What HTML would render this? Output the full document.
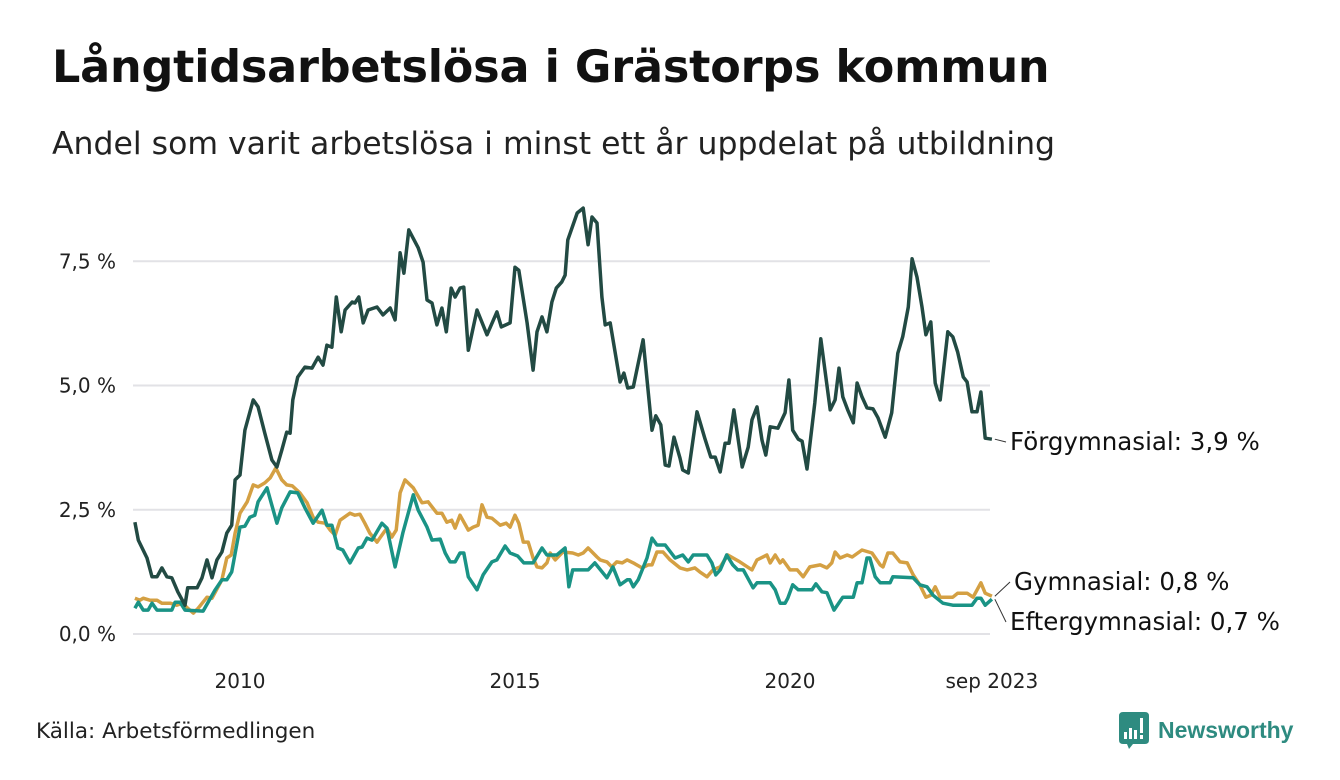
<!DOCTYPE html>
<html><head><meta charset="utf-8">
<style>
html,body{margin:0;padding:0;background:#fff;}
body{width:1340px;height:780px;overflow:hidden;position:relative;font-family:"DejaVu Sans","Liberation Sans",sans-serif;color:#111;}
#title{position:absolute;left:52px;top:42px;font-size:44.5px;font-weight:bold;margin:0;letter-spacing:-0.2px;}
#subtitle{position:absolute;left:52px;top:126px;font-size:31.5px;margin:0;color:#222;}
#source{position:absolute;left:36px;top:719px;font-size:21.5px;color:#222;}
#logo{position:absolute;left:1119px;top:712px;}
svg text{font-family:"DejaVu Sans","Liberation Sans",sans-serif;}
</style></head>
<body>
<h1 id="title">Långtidsarbetslösa i Grästorps kommun</h1>
<p id="subtitle">Andel som varit arbetslösa i minst ett år uppdelat på utbildning</p>
<svg id="chart" width="1340" height="780" style="position:absolute;left:0;top:0;"></svg>
<div id="source">Källa: Arbetsförmedlingen</div>
<div id="logo">
<svg width="190" height="40">
<path d="M0 4 Q0 0 4 0 L26 0 Q30 0 30 4 L30 28 Q30 32 26 32 L14 32 L10 37 L8 32 L4 32 Q0 32 0 28 Z" fill="#2e8b80"/>
<rect x="5" y="20" width="3" height="7" fill="#fff"/><rect x="10" y="16" width="3" height="11" fill="#fff"/><rect x="15" y="18" width="3" height="9" fill="#fff"/><rect x="21" y="6" width="3" height="15" fill="#fff"/><rect x="21" y="23" width="3" height="4" fill="#fff"/>
<text x="39" y="26" font-size="23" font-weight="bold" fill="#2e8b80" style="font-family:'Liberation Sans',sans-serif">Newsworthy</text>
</svg></div>
<script>
const yTicks=[0,2.5,5,7.5];
const yTickLabels=["0,0 %","2,5 %","5,0 %","7,5 %"];
const xTicks=[2010,2015,2020,2023.67];
const xTickLabels=["2010","2015","2020","sep 2023"];
const forDates=[2008.09,2008.15,2008.31,2008.40,2008.49,2008.58,2008.67,2008.76,2008.87,2009.00,2009.05,2009.22,2009.31,2009.40,2009.49,2009.58,2009.67,2009.76,2009.85,2009.91,2010.00,2010.09,2010.24,2010.33,2010.45,2010.58,2010.67,2010.76,2010.85,2010.91,2010.96,2011.05,2011.18,2011.31,2011.42,2011.51,2011.58,2011.67,2011.75,2011.84,2011.91,2012.04,2012.09,2012.16,2012.24,2012.33,2012.49,2012.60,2012.73,2012.82,2012.91,2012.98,2013.07,2013.24,2013.33,2013.40,2013.49,2013.58,2013.67,2013.75,2013.84,2013.91,2014.00,2014.07,2014.15,2014.31,2014.49,2014.67,2014.75,2014.91,2015.00,2015.07,2015.22,2015.33,2015.40,2015.49,2015.58,2015.67,2015.75,2015.85,2015.91,2015.96,2016.13,2016.24,2016.33,2016.40,2016.49,2016.58,2016.64,2016.73,2016.91,2016.98,2017.05,2017.15,2017.33,2017.49,2017.56,2017.65,2017.73,2017.80,2017.89,2018.00,2018.05,2018.15,2018.31,2018.45,2018.56,2018.64,2018.73,2018.82,2018.89,2018.98,2019.13,2019.24,2019.31,2019.40,2019.49,2019.56,2019.64,2019.78,2019.91,2019.98,2020.05,2020.15,2020.22,2020.31,2020.45,2020.56,2020.73,2020.82,2020.89,2020.96,2021.05,2021.15,2021.22,2021.31,2021.40,2021.51,2021.60,2021.73,2021.85,2021.96,2022.05,2022.15,2022.22,2022.31,2022.40,2022.47,2022.56,2022.64,2022.73,2022.87,2022.96,2023.05,2023.15,2023.22,2023.31,2023.40,2023.47,2023.55,2023.67];
const forValues=[2.25,1.89,1.53,1.15,1.15,1.33,1.15,1.13,0.85,0.58,0.93,0.93,1.13,1.49,1.13,1.49,1.65,2.03,2.19,3.10,3.20,4.10,4.71,4.57,4.04,3.50,3.36,3.70,4.06,4.04,4.71,5.17,5.37,5.35,5.57,5.41,5.81,5.77,6.78,6.08,6.52,6.68,6.66,6.78,6.26,6.52,6.58,6.42,6.56,6.32,7.67,7.26,8.13,7.77,7.48,6.72,6.66,6.22,6.56,6.08,6.96,6.78,6.96,6.98,5.71,6.52,6.02,6.48,6.18,6.26,7.38,7.32,6.26,5.31,6.08,6.38,6.08,6.68,6.96,7.08,7.22,7.93,8.47,8.57,7.83,8.39,8.27,6.78,6.22,6.26,5.07,5.25,4.95,4.97,5.92,4.10,4.39,4.21,3.40,3.38,3.96,3.54,3.30,3.24,4.47,3.94,3.56,3.56,3.26,3.84,3.84,4.51,3.36,3.76,4.31,4.57,3.90,3.60,4.17,4.14,4.45,5.11,4.10,3.92,3.88,3.32,4.65,5.94,4.51,4.71,5.35,4.77,4.51,4.25,5.05,4.77,4.55,4.53,4.35,3.96,4.45,5.65,5.98,6.58,7.55,7.18,6.58,6.02,6.28,5.05,4.71,6.08,5.98,5.67,5.17,5.07,4.47,4.47,4.87,3.94,3.92];
const eftDates=[2008.09,2008.15,2008.24,2008.33,2008.40,2008.49,2008.76,2008.82,2008.91,2009.00,2009.33,2009.55,2009.67,2009.76,2009.85,2010.00,2010.09,2010.18,2010.27,2010.33,2010.49,2010.67,2010.76,2010.91,2011.05,2011.18,2011.33,2011.49,2011.58,2011.67,2011.78,2011.87,2012.00,2012.15,2012.22,2012.31,2012.40,2012.58,2012.67,2012.82,2012.96,2013.05,2013.15,2013.24,2013.40,2013.49,2013.64,2013.73,2013.82,2013.91,2014.00,2014.07,2014.15,2014.31,2014.42,2014.58,2014.67,2014.82,2014.91,2015.05,2015.16,2015.33,2015.49,2015.58,2015.76,2015.91,2015.98,2016.05,2016.33,2016.45,2016.67,2016.78,2016.91,2017.04,2017.09,2017.15,2017.24,2017.40,2017.49,2017.58,2017.73,2017.91,2018.05,2018.15,2018.24,2018.49,2018.58,2018.65,2018.73,2018.85,2018.96,2019.05,2019.15,2019.22,2019.33,2019.40,2019.64,2019.73,2019.82,2019.91,2019.96,2020.05,2020.15,2020.40,2020.47,2020.58,2020.67,2020.80,2020.96,2021.15,2021.22,2021.31,2021.40,2021.45,2021.55,2021.64,2021.82,2021.87,2022.24,2022.36,2022.49,2022.60,2022.78,2022.96,2023.31,2023.40,2023.47,2023.55,2023.67];
const eftValues=[0.52,0.64,0.48,0.48,0.62,0.48,0.48,0.64,0.64,0.48,0.46,0.89,1.09,1.09,1.25,2.15,2.17,2.35,2.39,2.66,2.94,2.23,2.54,2.86,2.84,2.54,2.23,2.49,2.19,2.19,1.73,1.69,1.43,1.73,1.75,1.93,1.89,2.23,2.13,1.35,2.03,2.39,2.80,2.49,2.15,1.89,1.91,1.63,1.45,1.45,1.63,1.63,1.15,0.89,1.19,1.45,1.49,1.77,1.63,1.57,1.43,1.43,1.73,1.59,1.59,1.73,0.95,1.29,1.29,1.43,1.13,1.35,0.99,1.09,1.09,0.95,1.09,1.53,1.93,1.79,1.79,1.53,1.59,1.45,1.59,1.59,1.43,1.19,1.29,1.59,1.39,1.29,1.29,1.15,0.93,1.03,1.03,0.89,0.62,0.62,0.72,0.99,0.89,0.89,1.01,0.85,0.83,0.48,0.74,0.74,1.03,1.03,1.53,1.53,1.15,1.03,1.03,1.15,1.13,0.99,0.95,0.78,0.62,0.58,0.58,0.72,0.72,0.58,0.70];
const gymDates=[2008.09,2008.18,2008.24,2008.36,2008.49,2008.58,2008.73,2008.85,2008.95,2009.05,2009.15,2009.24,2009.40,2009.49,2009.67,2009.76,2009.84,2009.91,2010.00,2010.13,2010.24,2010.33,2010.45,2010.55,2010.65,2010.76,2010.85,2010.95,2011.09,2011.22,2011.33,2011.42,2011.55,2011.64,2011.73,2011.82,2012.00,2012.09,2012.18,2012.27,2012.36,2012.49,2012.58,2012.67,2012.76,2012.84,2012.91,2013.00,2013.15,2013.31,2013.42,2013.58,2013.67,2013.76,2013.85,2013.91,2014.00,2014.15,2014.24,2014.33,2014.40,2014.49,2014.58,2014.73,2014.84,2014.91,2015.00,2015.07,2015.15,2015.24,2015.33,2015.40,2015.49,2015.58,2015.64,2015.73,2015.87,2016.05,2016.15,2016.24,2016.33,2016.49,2016.55,2016.67,2016.76,2016.85,2016.95,2017.04,2017.15,2017.31,2017.42,2017.49,2017.58,2017.69,2017.82,2018.00,2018.13,2018.27,2018.36,2018.49,2018.60,2018.73,2018.87,2019.09,2019.31,2019.40,2019.58,2019.64,2019.73,2019.82,2019.87,2020.00,2020.13,2020.24,2020.36,2020.55,2020.67,2020.76,2020.82,2020.91,2021.04,2021.13,2021.31,2021.49,2021.64,2021.69,2021.78,2021.87,2022.00,2022.13,2022.24,2022.36,2022.47,2022.56,2022.64,2022.73,2022.96,2023.05,2023.22,2023.33,2023.47,2023.55,2023.67];
const gymValues=[0.72,0.68,0.72,0.68,0.68,0.62,0.62,0.58,0.62,0.52,0.42,0.52,0.74,0.72,1.09,1.53,1.59,2.03,2.43,2.66,3.00,2.96,3.04,3.14,3.34,3.10,3.00,2.98,2.84,2.64,2.35,2.25,2.23,2.09,1.99,2.29,2.43,2.39,2.41,2.23,2.03,1.85,1.99,2.13,1.95,2.09,2.84,3.10,2.94,2.64,2.66,2.43,2.43,2.25,2.29,2.13,2.39,2.09,2.15,2.19,2.60,2.35,2.33,2.19,2.23,2.15,2.39,2.23,1.85,1.85,1.53,1.35,1.33,1.43,1.63,1.49,1.65,1.63,1.59,1.63,1.73,1.55,1.49,1.45,1.35,1.45,1.43,1.49,1.43,1.33,1.39,1.39,1.65,1.65,1.49,1.33,1.29,1.33,1.25,1.15,1.29,1.35,1.59,1.45,1.29,1.49,1.59,1.43,1.59,1.43,1.49,1.29,1.29,1.15,1.35,1.39,1.33,1.43,1.65,1.53,1.59,1.55,1.69,1.63,1.39,1.35,1.63,1.63,1.45,1.43,1.19,0.99,0.74,0.78,0.95,0.74,0.74,0.82,0.82,0.74,1.03,0.82,0.76];

const NS='http://www.w3.org/2000/svg';
const svg=document.getElementById('chart');
const X0=133,X1=990;
function xScale(t){return 240+(t-2010)*55;}
function yScale(v){return 634-v*49.7;}
function mk(tag,attrs){const e=document.createElementNS(NS,tag);for(const k in attrs)e.setAttribute(k,attrs[k]);svg.appendChild(e);return e;}
yTicks.forEach((v,i)=>{
  const g=mk('line',{x1:X0,x2:X1,y1:yScale(v),y2:yScale(v),stroke:'#e2e2e6','stroke-width':2});
  
  
  const t=mk('text',{x:116,y:yScale(v)+7,'text-anchor':'end','font-size':20,fill:'#222'});
  t.textContent=yTickLabels[i];
  
  
});
xTicks.forEach((v,i)=>{
  const t=mk('text',{x:xScale(v),y:688,'text-anchor':'middle','font-size':20,fill:'#222'});
  t.textContent=xTickLabels[i];
  
  
});
function drawLine(dates,vals,color,name){
  const d=dates.map((t,i)=>(i?'L':'M')+xScale(t).toFixed(1)+' '+yScale(vals[i]).toFixed(1)).join(' ');
  const p=mk('path',{d:d,fill:'none',stroke:color,'stroke-width':3.5,'stroke-linejoin':'round'});
  
  
}
drawLine(gymDates,gymValues,'#d4a043','line-gymnasial');
drawLine(eftDates,eftValues,'#1a9385','line-eftergymnasial');
drawLine(forDates,forValues,'#224a43','line-forgymnasial');
function label(txt,lx,ly,ex,ey,name){
  const l=mk('line',{x1:ex+3,y1:ey,x2:lx-4,y2:ly-8,stroke:'#333','stroke-width':1});
  
  
  const t=mk('text',{x:lx,y:ly,'font-size':24.5,fill:'#111'});
  t.textContent=txt;
  
  
}
const nF=forDates.length-1,nG=gymDates.length-1,nE=eftDates.length-1;
label('Förgymnasial: 3,9 %',1010,450,xScale(forDates[nF]),yScale(forValues[nF]),'label-forgymnasial');
label('Gymnasial: 0,8 %',1014,590,xScale(gymDates[nG]),yScale(gymValues[nG]),'label-gymnasial');
label('Eftergymnasial: 0,7 %',1010,630,xScale(eftDates[nE]),yScale(eftValues[nE]),'label-eftergymnasial');
</script>
</body></html>
